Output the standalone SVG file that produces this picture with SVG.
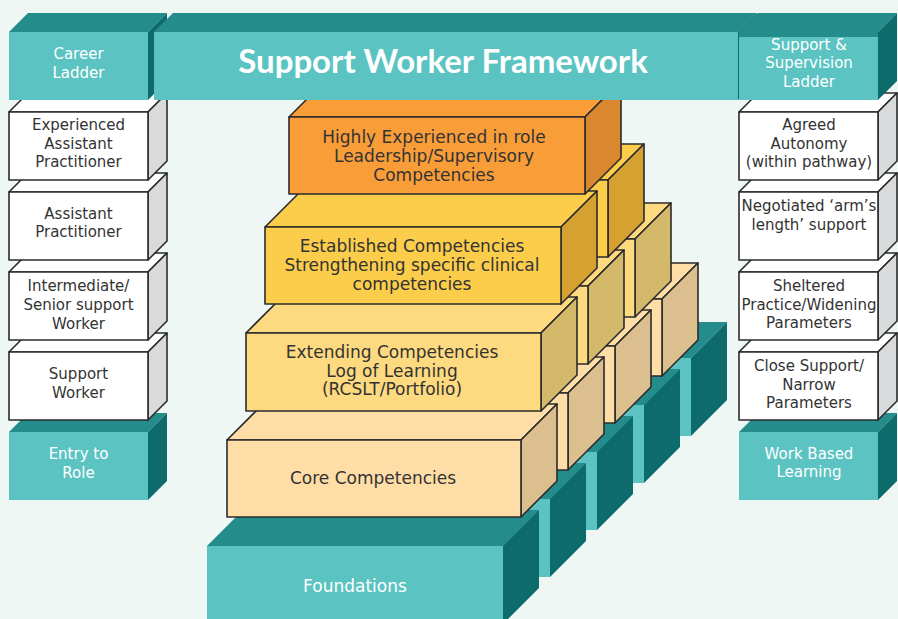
<svg xmlns="http://www.w3.org/2000/svg" width="898" height="619" viewBox="0 0 898 619">
<style>
.s{stroke:#2b2b2b;stroke-width:1.6;stroke-linejoin:round}
.tf{fill:#5bc4c2}.tt{fill:#248c8a}.ts{fill:#0d6b6b}
.wf{fill:#ffffff}.ws{fill:#d9dadc}
.of{fill:#f99d39}.os{fill:#d98830}
.ef{fill:#fbcd4b}.es{fill:#d5a131}
.xf{fill:#fdd97f}.xs{fill:#d5b96a}
.cf{fill:#fedda7}.cs{fill:#dcbf8f}
text{font-family:"DejaVu Sans","Noto Sans",sans-serif;text-anchor:middle}
.t15{font-size:15px;fill:#333333}
.w15{font-size:15px;fill:#ffffff}
.t17{font-size:17px;fill:#333333}
.w17{font-size:17px;fill:#ffffff}
.title{font-family:Lato,"Noto Sans",sans-serif;font-weight:700;font-size:33px;fill:#ffffff}
</style>
<rect width="898" height="619" fill="#eef7f3"/>

<g id="foundations">
<polygon class="tt" points="395,358 431,322 727,322 691,358"/><polygon class="ts" points="691,358 727,322 727,400 691,436"/><rect class="tf" x="395" y="358" width="296" height="78"/>
<polygon class="tt" points="348,405 384,369 680,369 644,405"/><polygon class="ts" points="644,405 680,369 680,447 644,483"/><rect class="tf" x="348" y="405" width="296" height="78"/>
<polygon class="tt" points="301,452 337,416 633,416 597,452"/><polygon class="ts" points="597,452 633,416 633,494 597,530"/><rect class="tf" x="301" y="452" width="296" height="78"/>
<polygon class="tt" points="254,499 290,463 586,463 550,499"/><polygon class="ts" points="550,499 586,463 586,541 550,577"/><rect class="tf" x="254" y="499" width="296" height="78"/>
<polygon class="tt" points="207,546 243,510 539,510 503,546"/><polygon class="ts" points="503,546 539,510 539,588 503,624"/><rect class="tf" x="207" y="546" width="296" height="78"/>
<text class="w17" x="355" y="592">Foundations</text>
</g>

<g id="core">
<g class="s">
<polygon class="cf" points="368,299 404,263 698,263 662,299"/><polygon class="cs" points="662,299 698,263 698,340 662,376"/><rect class="cf" x="368" y="299" width="294" height="77"/>
<polygon class="cf" points="321,346 357,310 651,310 615,346"/><polygon class="cs" points="615,346 651,310 651,387 615,423"/><rect class="cf" x="321" y="346" width="294" height="77"/>
<polygon class="cf" points="274,393 310,357 604,357 568,393"/><polygon class="cs" points="568,393 604,357 604,434 568,470"/><rect class="cf" x="274" y="393" width="294" height="77"/>
<polygon class="cf" points="227,440 263,404 557,404 521,440"/><polygon class="cs" points="521,440 557,404 557,481 521,517"/><rect class="cf" x="227" y="440" width="294" height="77"/>
</g>
<text class="t17" x="373" y="484">Core Competencies</text>
</g>

<g id="extending">
<g class="s">
<polygon class="xf" points="340,239 376,203 671,203 635,239"/><polygon class="xs" points="635,239 671,203 671,281 635,317"/><rect class="xf" x="340" y="239" width="295" height="78"/>
<polygon class="xf" points="293,286 329,250 624,250 588,286"/><polygon class="xs" points="588,286 624,250 624,328 588,364"/><rect class="xf" x="293" y="286" width="295" height="78"/>
<polygon class="xf" points="246,333 282,297 577,297 541,333"/><polygon class="xs" points="541,333 577,297 577,375 541,411"/><rect class="xf" x="246" y="333" width="295" height="78"/>
</g>
<text class="t17" x="392" y="358">Extending Competencies</text>
<text class="t17" x="392" y="376.5">Log of Learning</text>
<text class="t17" x="392" y="395">(RCSLT/Portfolio)</text>
</g>

<g id="established">
<g class="s">
<polygon class="ef" points="312,180 348,144 644,144 608,180"/><polygon class="es" points="608,180 644,144 644,221 608,257"/><rect class="ef" x="312" y="180" width="296" height="77"/>
<polygon class="ef" points="265,227 301,191 597,191 561,227"/><polygon class="es" points="561,227 597,191 597,268 561,304"/><rect class="ef" x="265" y="227" width="296" height="77"/>
</g>
<text class="t17" x="412" y="252">Established Competencies</text>
<text class="t17" x="412" y="271">Strengthening specific clinical</text>
<text class="t17" x="412" y="289.5">competencies</text>
</g>

<g id="highly-experienced">
<g class="s">
<polygon class="of" points="289,117 325,81 621,81 585,117"/><polygon class="os" points="585,117 621,81 621,158 585,194"/><rect class="of" x="289" y="117" width="296" height="77"/>
</g>
<text class="t17" x="434" y="143">Highly Experienced in role</text>
<text class="t17" x="434" y="162">Leadership/Supervisory</text>
<text class="t17" x="434" y="181">Competencies</text>
</g>

<g id="left-column">
<g id="entry-to-role">
<polygon class="tt" points="9,432 28,413 167,413 148,432"/><polygon class="ts" points="148,432 167,413 167,481 148,500"/><rect class="tf" x="9" y="432" width="139" height="68"/>
<text class="w15" x="78.5" y="459">Entry to</text><text class="w15" x="78.5" y="478">Role</text>
</g>
<g id="support-worker" class="s">
<polygon class="wf" points="9,352 28,333 167,333 148,352"/><polygon class="ws" points="148,352 167,333 167,401 148,420"/><rect class="wf" x="9" y="352" width="139" height="68"/>
</g>
<text class="t15" x="78.5" y="379">Support</text><text class="t15" x="78.5" y="398">Worker</text>
<g id="intermediate" class="s">
<polygon class="wf" points="9,272 28,253 167,253 148,272"/><polygon class="ws" points="148,272 167,253 167,321 148,340"/><rect class="wf" x="9" y="272" width="139" height="68"/>
</g>
<text class="t15" x="78.5" y="291">Intermediate/</text><text class="t15" x="78.5" y="310">Senior support</text><text class="t15" x="78.5" y="329">Worker</text>
<g id="assistant-practitioner" class="s">
<polygon class="wf" points="9,192 28,173 167,173 148,192"/><polygon class="ws" points="148,192 167,173 167,241 148,260"/><rect class="wf" x="9" y="192" width="139" height="68"/>
</g>
<text class="t15" x="78.5" y="219">Assistant</text><text class="t15" x="78.5" y="237">Practitioner</text>
<g id="experienced-ap" class="s">
<polygon class="wf" points="9,112 28,93 167,93 148,112"/><polygon class="ws" points="148,112 167,93 167,161 148,180"/><rect class="wf" x="9" y="112" width="139" height="68"/>
</g>
<text class="t15" x="78.5" y="130">Experienced</text><text class="t15" x="78.5" y="148.5">Assistant</text><text class="t15" x="78.5" y="167">Practitioner</text>
<g id="career-ladder">
<polygon class="tt" points="9,32 28,13 167,13 148,32"/><polygon class="ts" points="148,32 167,13 167,81 148,100"/><rect class="tf" x="9" y="32" width="139" height="68"/>
<text class="w15" x="78.5" y="59">Career</text><text class="w15" x="78.5" y="77.5">Ladder</text>
</g>
</g>

<g id="title-bar">
<polygon class="tt" points="154,32 173,13 757,13 738,32"/><polygon class="ts" points="738,32 757,13 757,81 738,100"/><rect class="tf" x="154" y="32" width="584" height="68"/>
<text class="title" x="443" y="72.5">Support Worker Framework</text>
</g>

<g id="right-column">
<g id="work-based-learning">
<polygon class="tt" points="739,432 758,413 897,413 878,432"/><polygon class="ts" points="878,432 897,413 897,481 878,500"/><rect class="tf" x="739" y="432" width="139" height="68"/>
<text class="w15" x="809" y="459">Work Based</text><text class="w15" x="809" y="477">Learning</text>
</g>
<g id="close-support" class="s">
<polygon class="wf" points="739,352 758,333 897,333 878,352"/><polygon class="ws" points="878,352 897,333 897,401 878,420"/><rect class="wf" x="739" y="352" width="139" height="68"/>
</g>
<text class="t15" x="809" y="371">Close Support/</text><text class="t15" x="809" y="389.5">Narrow</text><text class="t15" x="809" y="408">Parameters</text>
<g id="sheltered-practice" class="s">
<polygon class="wf" points="739,272 758,253 897,253 878,272"/><polygon class="ws" points="878,272 897,253 897,321 878,340"/><rect class="wf" x="739" y="272" width="139" height="68"/>
</g>
<text class="t15" x="809" y="291">Sheltered</text><text class="t15" x="809" y="309.5">Practice/Widening</text><text class="t15" x="809" y="328">Parameters</text>
<g id="negotiated" class="s">
<polygon class="wf" points="739,192 758,173 897,173 878,192"/><polygon class="ws" points="878,192 897,173 897,241 878,260"/><rect class="wf" x="739" y="192" width="139" height="68"/>
</g>
<text class="t15" x="809" y="211">Negotiated ‘arm’s</text><text class="t15" x="809" y="229.5">length’ support</text>
<g id="agreed-autonomy" class="s">
<polygon class="wf" points="739,112 758,93 897,93 878,112"/><polygon class="ws" points="878,112 897,93 897,161 878,180"/><rect class="wf" x="739" y="112" width="139" height="68"/>
</g>
<text class="t15" x="809" y="130">Agreed</text><text class="t15" x="809" y="148.5">Autonomy</text><text class="t15" x="809" y="167">(within pathway)</text>
<g id="support-supervision-ladder">
<polygon class="tt" points="739,37 739,32 758,13 897,13 878,32 878,37"/><polygon class="ts" points="878,32 897,13 897,81 878,100"/><rect class="tf" x="739" y="37" width="139" height="63"/>
<text class="w15" x="809" y="49.5">Support &amp;</text><text class="w15" x="809" y="68">Supervision</text><text class="w15" x="809" y="86.5">Ladder</text>
</g>
</g>

<g id="connectors"/>
</svg>
